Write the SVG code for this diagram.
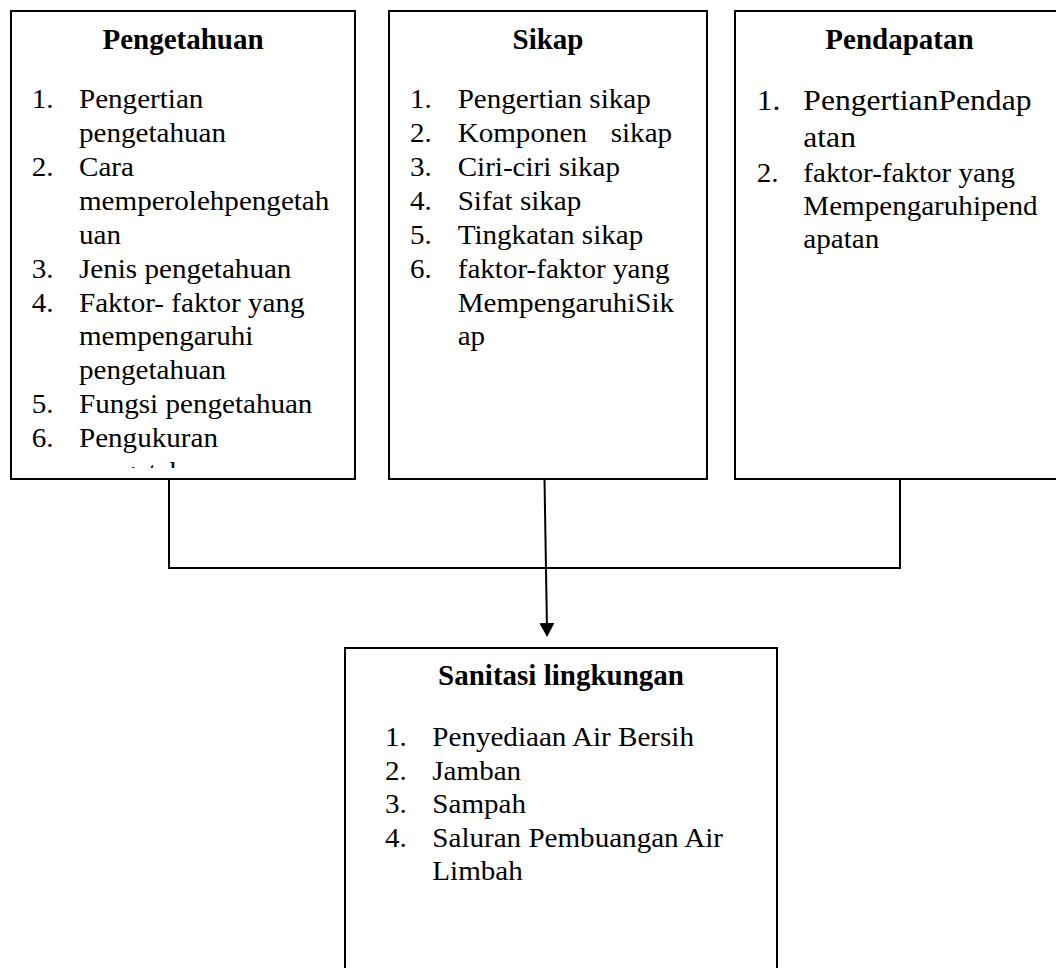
<svg xmlns="http://www.w3.org/2000/svg" width="1056" height="968" viewBox="0 0 1056 968">
<style>
.box{fill:#fff;stroke:#000;stroke-width:2}
.h{font-family:"Liberation Serif","Times New Roman",serif;font-weight:bold;font-size:29px;text-anchor:middle;fill:#000}
.t{font-family:"Liberation Serif","Times New Roman",serif;font-size:26.7px;fill:#000}
.t2{font-family:"Liberation Serif","Times New Roman",serif;font-size:29px;fill:#000}
.ln{fill:none;stroke:#000;stroke-width:2}
</style>
<defs>
<clipPath id="c1"><rect x="11" y="11" width="344" height="457"/></clipPath>
<marker id="arr" viewBox="0 0 14 15" refX="7" refY="7.5" markerWidth="14" markerHeight="15" markerUnits="userSpaceOnUse" orient="auto">
<path d="M0,0 L14,7.5 L0,15 z" fill="#000"/>
</marker>
</defs>
<rect width="1056" height="968" fill="#fff"/>
<g id="connectors">
<polyline class="ln" points="169,479 169,568 900,568 900,479"/>
<line class="ln" x1="544.5" y1="479" x2="547" y2="630" marker-end="url(#arr)"/>
</g>
<g id="pengetahuan">
<rect class="box" x="11" y="11" width="344" height="468"/>
<text class="h" x="183" y="49.3">Pengetahuan</text>
<g clip-path="url(#c1)">
<text class="t" transform="translate(31.7 108.3) scale(1.09 1)">1.</text>
<text class="t" transform="translate(79 108.3) scale(1.09 1)">Pengertian</text>
<text class="t" transform="translate(79 142.3) scale(1.09 1)">pengetahuan</text>
<text class="t" transform="translate(31.7 176) scale(1.09 1)">2.</text>
<text class="t" transform="translate(79 176) scale(1.09 1)">Cara</text>
<text class="t" transform="translate(79 210) scale(1.09 1)">memperolehpengetah</text>
<text class="t" transform="translate(79 243.5) scale(1.09 1)">uan</text>
<text class="t" transform="translate(31.7 277.5) scale(1.09 1)">3.</text>
<text class="t" transform="translate(79 277.5) scale(1.09 1)">Jenis pengetahuan</text>
<text class="t" transform="translate(31.7 311.5) scale(1.09 1)">4.</text>
<text class="t" transform="translate(79 311.5) scale(1.09 1)">Faktor- faktor yang</text>
<text class="t" transform="translate(79 345) scale(1.09 1)">mempengaruhi</text>
<text class="t" transform="translate(79 379) scale(1.09 1)">pengetahuan</text>
<text class="t" transform="translate(31.7 413) scale(1.09 1)">5.</text>
<text class="t" transform="translate(79 413) scale(1.09 1)">Fungsi pengetahuan</text>
<text class="t" transform="translate(31.7 446.7) scale(1.09 1)">6.</text>
<text class="t" transform="translate(79 446.7) scale(1.09 1)">Pengukuran</text>
<text class="t" transform="translate(79 480.5) scale(1.09 1)">pengetahuan</text>
</g>
</g>
<g id="sikap">
<rect class="box" x="389" y="11" width="318" height="468"/>
<text class="h" x="548" y="49.3">Sikap</text>
<text class="t" transform="translate(410 108.3) scale(1.09 1)">1.</text>
<text class="t" transform="translate(457.7 108.3) scale(1.09 1)">Pengertian sikap</text>
<text class="t" transform="translate(410 142.3) scale(1.09 1)">2.</text>
<text class="t" transform="translate(457.7 142.3) scale(1.09 1)">Komponen</text>
<text class="t" transform="translate(610.7 142.3) scale(1.09 1)">sikap</text>
<text class="t" transform="translate(410 176) scale(1.09 1)">3.</text>
<text class="t" transform="translate(457.7 176) scale(1.09 1)">Ciri-ciri sikap</text>
<text class="t" transform="translate(410 210) scale(1.09 1)">4.</text>
<text class="t" transform="translate(457.7 210) scale(1.09 1)">Sifat sikap</text>
<text class="t" transform="translate(410 243.5) scale(1.09 1)">5.</text>
<text class="t" transform="translate(457.7 243.5) scale(1.09 1)">Tingkatan sikap</text>
<text class="t" transform="translate(410 277.5) scale(1.09 1)">6.</text>
<text class="t" transform="translate(457.7 277.5) scale(1.09 1)">faktor-faktor yang</text>
<text class="t" transform="translate(457.7 311.5) scale(1.09 1)">MempengaruhiSik</text>
<text class="t" transform="translate(457.7 345) scale(1.09 1)">ap</text>
</g>
<g id="pendapatan">
<rect class="box" x="735" y="11" width="330" height="468"/>
<text class="h" x="899.5" y="49.3">Pendapatan</text>
<text class="t2" transform="translate(756.7 110) scale(1.09 1)">1.</text>
<text class="t2" transform="translate(803.3 110) scale(1.09 1)">PengertianPendap</text>
<text class="t2" transform="translate(803.3 146.7) scale(1.09 1)">atan</text>
<text class="t" transform="translate(756.7 181.7) scale(1.09 1)">2.</text>
<text class="t" transform="translate(803.3 181.7) scale(1.09 1)">faktor-faktor yang</text>
<text class="t" transform="translate(803.3 215) scale(1.09 1)">Mempengaruhipend</text>
<text class="t" transform="translate(803.3 248.3) scale(1.09 1)">apatan</text>
</g>
<g id="sanitasi">
<rect class="box" x="345" y="648" width="432" height="340"/>
<text class="h" x="561" y="685">Sanitasi lingkungan</text>
<text class="t" transform="translate(385 746) scale(1.09 1)">1.</text>
<text class="t" transform="translate(432.3 746) scale(1.09 1)">Penyediaan Air Bersih</text>
<text class="t" transform="translate(385 779.5) scale(1.09 1)">2.</text>
<text class="t" transform="translate(432.3 779.5) scale(1.09 1)">Jamban</text>
<text class="t" transform="translate(385 813) scale(1.09 1)">3.</text>
<text class="t" transform="translate(432.3 813) scale(1.09 1)">Sampah</text>
<text class="t" transform="translate(385 846.5) scale(1.09 1)">4.</text>
<text class="t" transform="translate(432.3 846.5) scale(1.09 1)">Saluran Pembuangan Air</text>
<text class="t" transform="translate(432.3 880) scale(1.09 1)">Limbah</text>
</g>
</svg>
